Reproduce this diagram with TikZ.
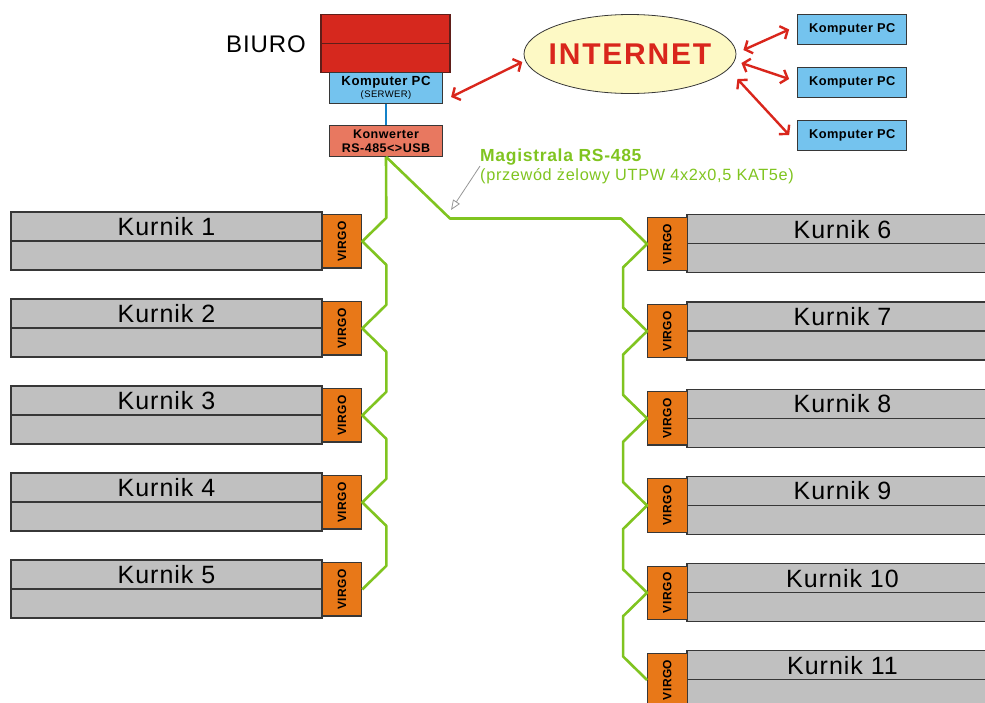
\documentclass[tikz,border=0pt]{standalone}
\usepackage{fontspec}
\setmainfont{Liberation Sans}[LetterSpace=4]
\newfontfamily\widefont{Liberation Sans}[LetterSpace=6]
\usetikzlibrary{arrows.meta,calc,shapes.geometric}
\definecolor{bord}{RGB}{55,55,55}
\definecolor{kgray}{RGB}{192,192,192}
\definecolor{vorange}{RGB}{232,120,24}
\definecolor{pcblue}{RGB}{116,195,238}
\definecolor{konv}{RGB}{232,120,96}
\definecolor{bred}{RGB}{214,40,30}
\definecolor{bredb}{RGB}{95,30,25}
\definecolor{arrred}{RGB}{217,38,28}
\definecolor{busgreen}{RGB}{128,196,32}
\definecolor{lineblue}{RGB}{20,130,200}
\definecolor{inetfill}{RGB}{253,249,197}
\definecolor{anngray}{RGB}{150,150,150}
\begin{document}
\begin{tikzpicture}[x=1pt,y=-1pt,
  kbox/.style={draw=bord, fill=kgray, line width=1.1pt, minimum width=311pt, minimum height=29pt, inner sep=0pt, font=\fontsize{25}{30}\selectfont},
  virgo/.style={draw=bord, fill=vorange, line width=1.1pt, minimum width=39.5pt, minimum height=53.3pt, inner sep=0pt, font=\bfseries\fontsize{12}{14}\selectfont},
  pcbox/.style={draw=bord, fill=pcblue, line width=1.1pt, minimum width=109pt, minimum height=30.4pt, inner sep=0pt, font=\bfseries\fontsize{12.8}{15}\selectfont},
  redbox/.style={draw=bredb, fill=bred, line width=1.2pt, minimum width=129pt, minimum height=29.2pt, inner sep=0pt},
  bus/.style={draw=busgreen, line width=2.6pt, line join=round},
  redarr/.style={draw=arrred, line width=2.4pt, {Straight Barb[length=6pt,width=14pt]}-{Straight Barb[length=6pt,width=14pt]}},
  ann/.style={draw=anngray, line width=0.8pt, -{Triangle[open,length=10pt,width=8pt]}}
]
\useasboundingbox (0,0) rectangle (985,702);
\clip (0,0) rectangle (985,702);

% office
\node[font=\fontsize{24}{28}\selectfont] (biuro) at (266,44) {BIURO};
\node[redbox] (rtop) at (385.5,29) {};
\node[redbox] (rbot) at (385.5,58.2) {};
\node[pcbox, minimum width=113pt, align=center, font=\bfseries\fontsize{13.2}{13}\selectfont] (srv) at (386,88)
  {Komputer PC\\[-1pt]{\mdseries\fontsize{9.5}{11}\selectfont (SERWER)}};
\node[pcbox, fill=konv, minimum width=113pt, align=center, font=\bfseries\fontsize{12.5}{14}\selectfont] (konw) at (386,141)
  {Konwerter\\RS-485<>USB};
\draw[draw=lineblue, line width=2.8pt] (srv.south) -- (konw.north);

% internet
\node[ellipse, draw=bord, line width=0.8pt, fill=inetfill, minimum width=212pt, minimum height=79pt, inner xsep=-40pt, inner ysep=-4pt,
  text=arrred, font=\widefont\bfseries\fontsize{30}{34}\selectfont] (inet) at (630,54) {INTERNET};
\node[pcbox] (pc1) at (852.2,29.5) {Komputer PC};
\node[pcbox] (pc2) at (852.2,82.5) {Komputer PC};
\node[pcbox] (pc3) at (852.2,135.7) {Komputer PC};
\draw[redarr] ($(srv.east)+(8,9)$) -- ($(inet.west)+(-1.3,8)$);
\draw[redarr] ($(inet.east)+(7,-4)$) -- ($(pc1.west)+(-8,0)$);
\draw[redarr] ($(inet.east)+(5,9)$) -- ($(pc2.west)+(-8,-3.5)$);
\draw[redarr] ($(inet.east)+(1,25)$) -- ($(pc3.west)+(-8,-0.7)$);

% label
\node[anchor=base west, inner sep=0pt, text=busgreen, font=\bfseries\fontsize{17.5}{20}\selectfont] (mag1) at (480,161.7) {Magistrala RS-485};
\node[anchor=base west, inner sep=0pt, text=busgreen, font=\fontsize{16.3}{19}\selectfont] (mag2) at (480,180.7) {(przewód żelowy UTPW 4x2x0,5 KAT5e)};
\coordinate (annS) at (480,166);
\coordinate (annT) at (451,210);

% kurniki left
\foreach \k [evaluate=\k as \yy using 212+87*(\k-1)] in {1,...,5} {
  \node[kbox] (kt\k) at (166.5,\yy+14.5) {Kurnik \k};
  \node[kbox] (kb\k) at (166.5,\yy+43.5) {};
  \node[virgo] (v\k) at (342,\yy+29.35) {\rotatebox{90}{VIRGO}};
}
% kurniki right
\foreach \k [evaluate=\k as \yy using 214.8+87.2*(\k-6)] in {6,...,11} {
  \node[kbox] (kt\k) at (842.5,\yy+14.5) {Kurnik \k};
  \node[kbox] (kb\k) at (842.5,\yy+43.5) {};
  \node[virgo] (v\k) at (667.35,\yy+29.15) {\rotatebox{90}{VIRGO}};
}

% bus
\coordinate (b1) at (450,218.5);
\coordinate (b2) at (621,218.5);
\draw[bus] (konw.south) -- ($(v1.east)+(24,-23.5)$) -- (v1.east) -- ($(v1.east)+(24,23.5)$)
  -- ($(v2.east)+(24,-23.5)$) -- (v2.east) -- ($(v2.east)+(24,23.5)$)
  -- ($(v3.east)+(24,-23.5)$) -- (v3.east) -- ($(v3.east)+(24,23.5)$)
  -- ($(v4.east)+(24,-23.5)$) -- (v4.east) -- ($(v4.east)+(24,23.5)$)
  -- ($(v5.east)+(24,-23.5)$) -- (v5.east);
\draw[bus] (konw.south) -- (b1) -- (b2) -- (v6.west) -- ($(v6.west)+(-24,23.5)$)
  -- ($(v7.west)+(-24,-23.5)$) -- (v7.west) -- ($(v7.west)+(-24,23.5)$)
  -- ($(v8.west)+(-24,-23.5)$) -- (v8.west) -- ($(v8.west)+(-24,23.5)$)
  -- ($(v9.west)+(-24,-23.5)$) -- (v9.west) -- ($(v9.west)+(-24,23.5)$)
  -- ($(v10.west)+(-24,-23.5)$) -- (v10.west) -- ($(v10.west)+(-24,23.5)$)
  -- ($(v11.west)+(-24,-23.5)$) -- (v11.west);
\draw[ann] (annS) -- (annT);
\end{tikzpicture}
\end{document}
